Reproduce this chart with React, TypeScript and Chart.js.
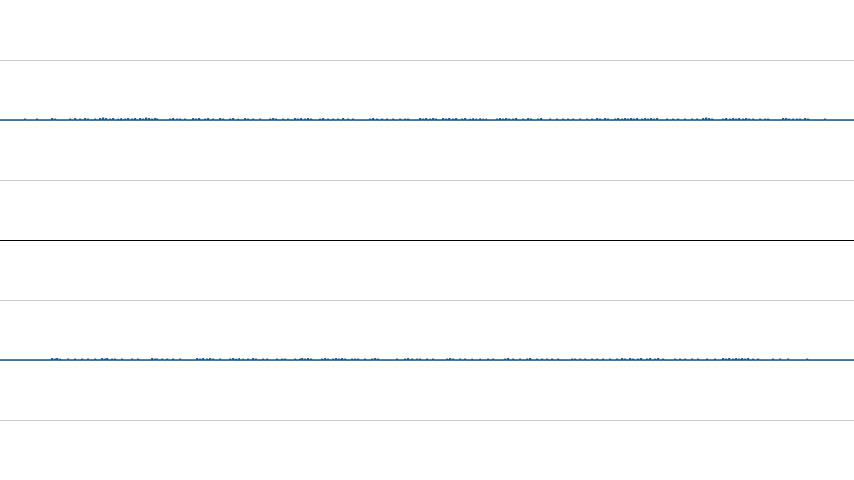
import { Chart, registerables } from "chart.js";
import { useEffect, useRef } from "react";

Chart.register(...registerables);

// baseline level of each trace (y units), spikes are [x, height]
const topBase = 2;
const bottomBase = -2;
const xMax = 854;

const topSpikes: [number, number][] = [
  [25, 0.02], [37, 0.02], [52, 0.03], [55, 0.02], [70, 0.02], [75, 0.03], [80, 0.02], [85, 0.03],
  [88, 0.02], [95, 0.02], [100, 0.03], [103, 0.04], [106, 0.03], [110, 0.02], [113, 0.03], [118, 0.02],
  [121, 0.03], [125, 0.02], [128, 0.03], [132, 0.02], [135, 0.03], [140, 0.03], [143, 0.02], [146, 0.04],
  [149, 0.03], [152, 0.02], [155, 0.03], [157, 0.02], [170, 0.02], [173, 0.03], [177, 0.02], [180, 0.02],
  [185, 0.02], [193, 0.03], [196, 0.02], [199, 0.03], [205, 0.02], [208, 0.03], [213, 0.02], [220, 0.03],
  [223, 0.02], [230, 0.02], [233, 0.03], [238, 0.02], [245, 0.03], [248, 0.02], [253, 0.02], [260, 0.02],
  [270, 0.02], [273, 0.03], [276, 0.02], [283, 0.02], [288, 0.02], [295, 0.03], [298, 0.02], [301, 0.03],
  [305, 0.02], [308, 0.03], [311, 0.02], [320, 0.02], [323, 0.03], [328, 0.02], [333, 0.02], [338, 0.02],
  [343, 0.03], [348, 0.02], [353, 0.02], [370, 0.02], [373, 0.03], [377, 0.02], [382, 0.02], [387, 0.02],
  [393, 0.02], [400, 0.02], [405, 0.02], [408, 0.02], [420, 0.03], [423, 0.02], [426, 0.03], [430, 0.02],
  [433, 0.03], [436, 0.02], [443, 0.03], [446, 0.02], [449, 0.03], [453, 0.02], [456, 0.03], [462, 0.02],
  [465, 0.03], [470, 0.02], [473, 0.03], [476, 0.02], [480, 0.03], [483, 0.02], [486, 0.02], [497, 0.02],
  [500, 0.03], [503, 0.02], [506, 0.03], [509, 0.02], [513, 0.02], [516, 0.03], [523, 0.02], [528, 0.03],
  [531, 0.02], [538, 0.02], [541, 0.03], [550, 0.02], [557, 0.02], [563, 0.02], [568, 0.02], [573, 0.02],
  [580, 0.02], [587, 0.02], [592, 0.02], [597, 0.03], [600, 0.02], [605, 0.03], [608, 0.02], [615, 0.02],
  [618, 0.03], [622, 0.02], [625, 0.03], [628, 0.02], [631, 0.03], [634, 0.02], [637, 0.03], [642, 0.02],
  [645, 0.03], [648, 0.02], [651, 0.03], [654, 0.02], [657, 0.03], [667, 0.02], [673, 0.02], [678, 0.02],
  [685, 0.02], [692, 0.02], [697, 0.02], [703, 0.03], [706, 0.04], [709, 0.03], [712, 0.02], [723, 0.02],
  [726, 0.03], [730, 0.02], [733, 0.03], [736, 0.02], [739, 0.03], [743, 0.02], [746, 0.03], [749, 0.02],
  [753, 0.02], [760, 0.02], [765, 0.02], [768, 0.02], [783, 0.03], [786, 0.03], [789, 0.02], [793, 0.02],
  [797, 0.02], [800, 0.02], [805, 0.03], [808, 0.02], [825, 0.02],
];

const bottomSpikes: [number, number][] = [
  [52, 0.03], [55, 0.02], [57, 0.03], [60, 0.02], [68, 0.02], [75, 0.02], [82, 0.02], [88, 0.02],
  [95, 0.02], [102, 0.03], [105, 0.02], [107, 0.03], [112, 0.02], [115, 0.02], [122, 0.02], [132, 0.02],
  [138, 0.02], [152, 0.03], [155, 0.02], [157, 0.02], [162, 0.02], [167, 0.02], [173, 0.02], [180, 0.02],
  [197, 0.03], [200, 0.02], [203, 0.03], [207, 0.02], [210, 0.03], [213, 0.02], [220, 0.02], [230, 0.02],
  [233, 0.03], [236, 0.02], [239, 0.03], [243, 0.02], [248, 0.02], [253, 0.03], [256, 0.02], [263, 0.02],
  [267, 0.02], [277, 0.02], [282, 0.02], [285, 0.02], [295, 0.02], [300, 0.02], [302, 0.03], [305, 0.02],
  [308, 0.03], [311, 0.02], [322, 0.02], [325, 0.03], [328, 0.02], [333, 0.02], [336, 0.03], [339, 0.02],
  [342, 0.03], [345, 0.02], [352, 0.02], [355, 0.02], [358, 0.02], [365, 0.02], [372, 0.02], [375, 0.03],
  [378, 0.02], [397, 0.02], [405, 0.02], [408, 0.03], [412, 0.02], [417, 0.02], [420, 0.02], [427, 0.02],
  [433, 0.02], [447, 0.02], [450, 0.03], [453, 0.02], [460, 0.02], [465, 0.02], [472, 0.02], [480, 0.02],
  [488, 0.02], [493, 0.02], [505, 0.02], [508, 0.03], [513, 0.02], [520, 0.02], [527, 0.02], [530, 0.03],
  [537, 0.02], [542, 0.02], [547, 0.02], [552, 0.02], [558, 0.02], [572, 0.02], [575, 0.02], [580, 0.02],
  [585, 0.02], [592, 0.02], [597, 0.02], [603, 0.02], [610, 0.02], [617, 0.02], [622, 0.03], [625, 0.02],
  [630, 0.03], [633, 0.02], [638, 0.02], [641, 0.03], [647, 0.02], [650, 0.03], [655, 0.02], [658, 0.03],
  [663, 0.02], [675, 0.02], [680, 0.02], [685, 0.02], [692, 0.02], [698, 0.02], [707, 0.02], [715, 0.02],
  [723, 0.03], [726, 0.02], [729, 0.03], [733, 0.02], [736, 0.03], [739, 0.02], [742, 0.03], [745, 0.02],
  [748, 0.03], [753, 0.02], [758, 0.02], [773, 0.02], [780, 0.02], [788, 0.02], [807, 0.02],
];

const lineColor = "#15578a";

// turn spike list into a trace: flat baseline with a narrow bump per spike
const toTrace = (base: number, spikes: [number, number][]) => {
  const pts = [{ x: 0, y: base }];
  spikes.forEach(([x, h]) => {
    pts.push({ x: x - 0.5, y: base }, { x, y: base + h }, { x: x + 0.5, y: base });
  });
  pts.push({ x: xMax, y: base });
  return pts;
};

const App = () => {
  const canvasRef = useRef<HTMLCanvasElement>(null);
  const chartRef = useRef<Chart | null>(null);

  useEffect(() => {
    if (!canvasRef.current) return;
    chartRef.current?.destroy();

    const trace = (data: { x: number; y: number }[]) => ({
      data,
      borderColor: lineColor,
      borderWidth: 1.5,
      borderJoinStyle: "bevel" as const,
      pointRadius: 0,
      tension: 0,
    });

    chartRef.current = new Chart(canvasRef.current, {
      type: "line",
      data: {
        datasets: [trace(toTrace(topBase, topSpikes)), trace(toTrace(bottomBase, bottomSpikes))],
      },
      options: {
        animation: false,
        responsive: true,
        maintainAspectRatio: false,
        layout: { padding: 0 },
        plugins: {
          legend: { display: false },
          tooltip: { enabled: false },
        },
        scales: {
          x: {
            type: "linear",
            min: 0,
            max: xMax,
            display: false,
          },
          y: {
            min: -4,
            max: 4,
            ticks: { display: false, stepSize: 1 },
            border: { display: false },
            grid: {
              drawTicks: false,
              lineWidth: 1,
              color: (ctx) => {
                const v = ctx.tick?.value;
                if (v === 0) return "#000000";
                if (v === 4 || v === -4) return "rgba(0,0,0,0)";
                return "#cccccc";
              },
            },
          },
        },
      },
    });

    return () => {
      chartRef.current?.destroy();
      chartRef.current = null;
    };
  }, []);

  return (
    <div
      style={{
        position: "fixed",
        left: 0,
        top: 0,
        width: 854,
        height: 480,
        background: "#ffffff",
      }}
    >
      <canvas ref={canvasRef} />
    </div>
  );
};

export default App;
